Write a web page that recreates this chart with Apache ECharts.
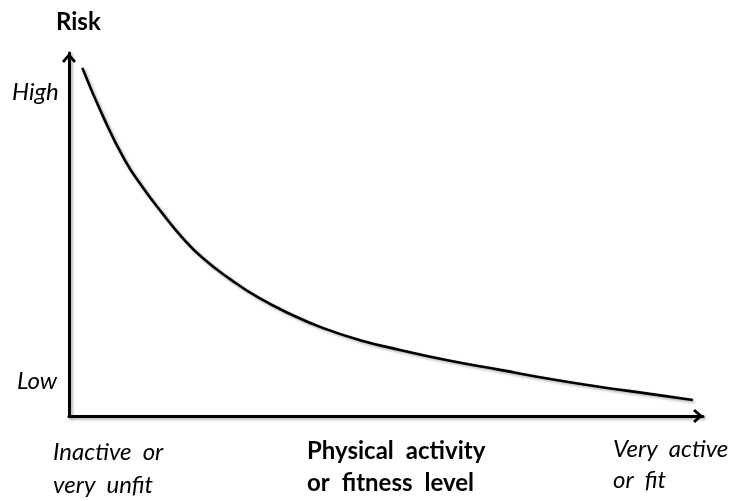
<!DOCTYPE html>
<html>
<head>
<meta charset="utf-8">
<script src="https://cdn.jsdelivr.net/npm/echarts@6/dist/echarts.min.js"></script>
<style>
html,body{margin:0;padding:0;background:#fff;}
#chart{width:753px;height:501px;}
</style>
</head>
<body>
<div id="chart"></div>
<script>
// Activity/fitness level (0 = inactive, 100 = very active), arbitrary units
const activityLevel = [2.1, 5.4, 8.8, 11.7, 14.7, 17.8, 21.1, 25.4, 29.7, 34.9, 40.1, 45.9, 52.2, 60.1, 68.0, 75.9, 83.8, 91.6, 98.4];
// Risk (0 = low, 100 = high), arbitrary units
const riskValues = [95.9, 82.4, 70.5, 62.8, 55.9, 49.3, 43.5, 37.7, 32.8, 28.1, 24.2, 20.9, 18.2, 15.2, 12.7, 10.2, 8.0, 6.1, 4.4];

const yAxisTitle = 'Risk';
const yHighLabel = 'High';
const yLowLabel = 'Low';
const xLeftLabel = ['Inactive\u2002or', 'very\u2002unfit'];
const xCenterLabel = ['Physical\u2002activity', 'or\u2002fitness\u2002level'];
const xRightLabel = ['Very\u2002active', 'or\u2002fit'];

const chart = echarts.init(document.getElementById('chart'));
const FONT = 'Lato, "Open Sans", sans-serif';
const chevron = 'path://M7,0 L14,8 L12,10 L7,4.3 L2,10 L0,8 Z';
const shadow = {shadowColor: 'rgba(0,0,0,0.35)', shadowBlur: 3, shadowOffsetX: 1.5, shadowOffsetY: 1.5};

function txt(text, x, y, bold, italic) {
  return {
    type: 'text', left: x, top: y,
    style: {
      text: text, fill: '#000',
      font: (italic ? 'italic ' : '') + (bold ? 'bold ' : '') + '24px ' + FONT
    }
  };
}

const data = activityLevel.map((x, i) => [x, riskValues[i]]);

const axisCommon = {
  type: 'value', min: 0, max: 100,
  axisLine: {show: true, onZero: false, symbol: ['none', chevron], symbolSize: [14, 10], symbolOffset: [0, -5],
    lineStyle: Object.assign({color: '#000', width: 3}, shadow)},
  axisTick: {show: false}, axisLabel: {show: false}, splitLine: {show: false}
};

chart.setOption({
  animation: false,
  backgroundColor: '#fff',
  grid: {left: 69, right: 50, top: 53, bottom: 85},
  xAxis: axisCommon,
  yAxis: axisCommon,
  series: [{
    type: 'line', data: data, smooth: true, showSymbol: false,
    lineStyle: Object.assign({color: '#000', width: 2.6}, shadow)
  }],
  graphic: [
    txt(yAxisTitle, 56, 10.5, true, false),
    txt(yHighLabel, 12, 80.5, false, true),
    txt(yLowLabel, 17, 369.5, false, true),
    txt(xLeftLabel[0], 53, 440.5, false, true),
    txt(xLeftLabel[1], 53, 473.5, false, true),
    txt(xCenterLabel[0], 307, 439.5, true, false),
    txt(xCenterLabel[1], 307, 471.5, true, false),
    txt(xRightLabel[0], 613, 437.5, false, true),
    txt(xRightLabel[1], 613, 468.5, false, true)
  ]
});
</script>
</body>
</html>
